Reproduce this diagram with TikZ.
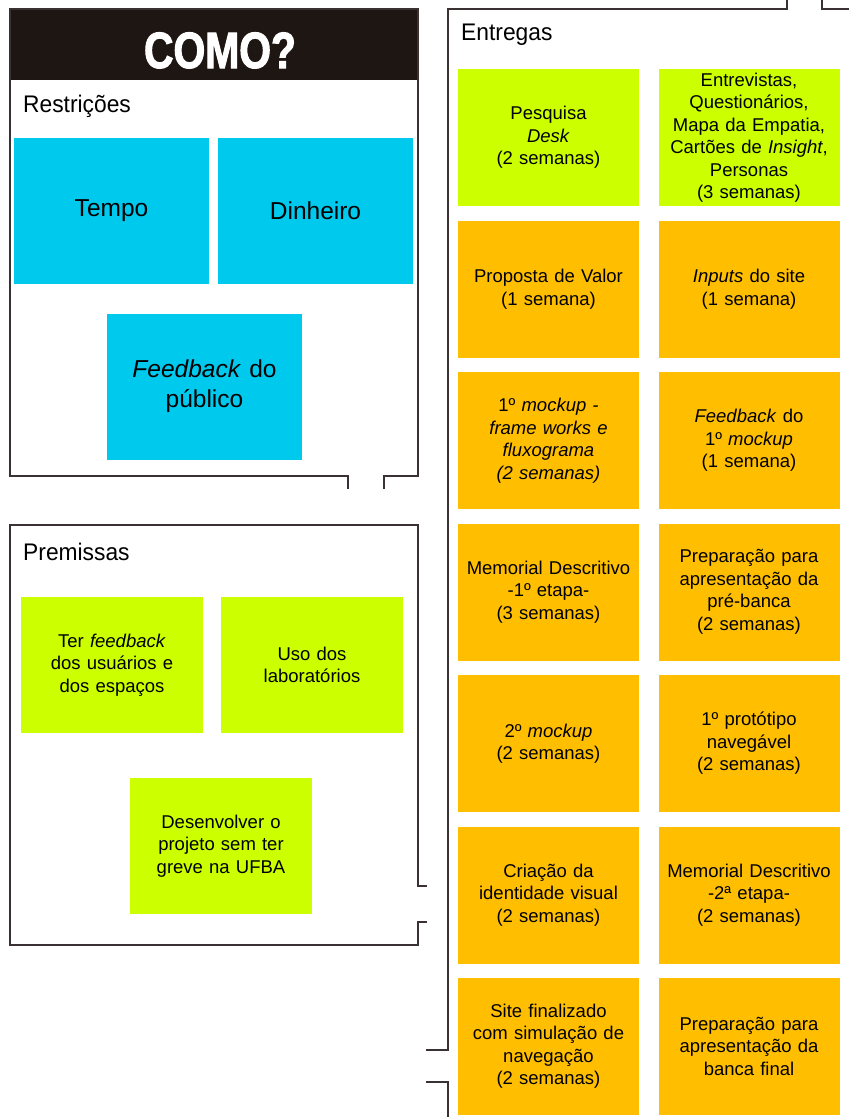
\documentclass[tikz,border=0pt]{standalone}
\usepackage{fontspec}
\setmainfont{Liberation Sans}
\newfontfamily\headfont[FakeStretch=0.95]{Liberation Sans}
\newfontfamily\titlefont[FakeStretch=0.8,FakeBold=2]{Liberation Sans}
\usetikzlibrary{positioning}
\definecolor{ciano}{HTML}{00C9EE}
\definecolor{lima}{HTML}{CCFF00}
\definecolor{laranja}{HTML}{FFBF00}
\definecolor{preto}{HTML}{1E1613}
\definecolor{traco}{HTML}{3A3232}
\tikzset{quadro/.style={draw=traco,line width=1.3pt,line cap=rect}}
\tikzset{titulo/.style={anchor=base west,inner sep=0pt,font=\headfont\fontsize{24}{24}\selectfont}}
\tikzset{restr/.style={fill=ciano,minimum width=195pt,minimum height=146pt,inner sep=0pt,text width=185pt,align=center,font=\fontsize{24.5}{30}\selectfont}}
\tikzset{prem/.style={fill=lima,minimum width=182pt,minimum height=136pt,inner sep=0pt,text width=176pt,align=center,font=\fontsize{18.5}{22.5}\selectfont}}
\tikzset{ent/.style={minimum width=181pt,minimum height=137pt,inner sep=0pt,text width=177pt,align=center,font=\fontsize{18.5}{22.5}\selectfont}}
\tikzset{v/.style={ent,fill=lima}}
\tikzset{o/.style={ent,fill=laranja}}

\begin{document}
\begin{tikzpicture}[x=1pt,y=-1pt]
  \useasboundingbox (0,0) rectangle (849,1117);
  % Restricoes
  \fill[preto] (10,9) rectangle (418,80);
  \node[inner sep=0pt,anchor=base,text=white,font=\titlefont\bfseries\fontsize{51}{51}\selectfont] (como) at (220,68) {COMO?};
  \draw[quadro] (348,488) -- (348,476) -- (10,476) -- (10,9) -- (418,9) -- (418,476) -- (384,476) -- (384,488);
  \node[titulo] (restricoes) at (23,112) {Restrições};
  \node[restr] (tempo) at (111.5,211) {Tempo};
  \node[restr] (dinheiro) at (315.5,211) {Dinheiro};
  \node[restr] (publico) at (204.5,386.5) {\textit{Feedback} do\\público};
  % Premissas
  \draw[quadro] (426,886) -- (418,886) -- (418,525) -- (10,525) -- (10,945) -- (418,945) -- (418,922) -- (426,922);
  \node[titulo] (premissas) at (23,560) {Premissas};
  \node[prem] (feedback) at (112,665) {Ter \textit{feedback}\\dos usuários e\\dos espaços};
  \node[prem] (labs) at (312,665) {Uso dos\\laboratórios};
  \node[prem] (greve) at (221,846) {Desenvolver o\\projeto sem ter\\greve na UFBA};
  % Entregas
  \draw[quadro] (427,1050) -- (448,1050) -- (448,9) -- (787,9) -- (787,0);
  \draw[quadro] (822,0) -- (822,9) -- (849,9);
  \draw[quadro] (427,1082) -- (448,1082) -- (448,1117);
  \node[titulo] (entregas) at (461,40) {Entregas};
  \node[v] (e1) at (548.5,137.5) {Pesquisa\\\textit{Desk}\\(2 semanas)};
  \node[v] (e2) at (749,137.5) {Entrevistas,\\Questionários,\\Mapa da Empatia,\\Cartões de \textit{Insight},\\Personas\\(3 semanas)};
  \node[o] (e3) at (548.5,289) {Proposta de Valor\\(1 semana)};
  \node[o] (e4) at (749,289) {\textit{Inputs} do site\\(1 semana)};
  \node[o] (e5) at (548.5,440.5) {1º \textit{mockup -}\\\textit{frame works e}\\\textit{fluxograma}\\\textit{(2 semanas)}};
  \node[o] (e6) at (749,440.5) {\textit{Feedback} do\\1º \textit{mockup}\\(1 semana)};
  \node[o] (e7) at (548.5,592) {Memorial Descritivo\\-1º etapa-\\(3 semanas)};
  \node[o] (e8) at (749,592) {Preparação para\\apresentação da\\pré-banca\\(2 semanas)};
  \node[o] (e9) at (548.5,743.5) {2º \textit{mockup}\\(2 semanas)};
  \node[o] (e10) at (749,743.5) {1º protótipo\\navegável\\(2 semanas)};
  \node[o] (e11) at (548.5,895) {Criação da\\identidade visual\\(2 semanas)};
  \node[o] (e12) at (749,895) {Memorial Descritivo\\-2ª etapa-\\(2 semanas)};
  \node[o] (e13) at (548.5,1046) {Site finalizado\\com simulação de\\navegação\\(2 semanas)};
  \node[o] (e14) at (749,1046) {Preparação para\\apresentação da\\banca final};
\end{tikzpicture}
\end{document}
